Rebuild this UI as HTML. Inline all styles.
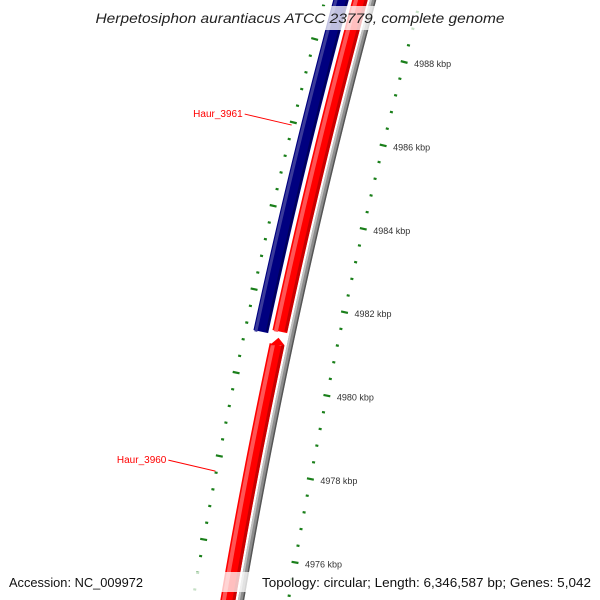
<!DOCTYPE html>
<html><head><meta charset="utf-8"><style>
html,body{margin:0;padding:0;background:#fff;}
svg{display:block;font-family:"Liberation Sans",sans-serif;}
</style></head><body>
<svg id="map" width="600" height="600" viewBox="0 0 600 600" xmlns="http://www.w3.org/2000/svg">
<g id="tracks"></g>
<g id="ticks"></g>
<g id="labels"></g>
<rect x="92" y="6" width="416" height="24" fill="#fff" fill-opacity="0.75"/>
<text x="300" y="23" text-anchor="middle" font-size="14" font-style="italic" fill="#222" textLength="409" lengthAdjust="spacingAndGlyphs">Herpetosiphon aurantiacus ATCC 23779, complete genome</text>
<rect x="0" y="572" width="600" height="20" fill="#fff" fill-opacity="0.75"/>
<text x="9" y="587" font-size="13" fill="#111" textLength="134" lengthAdjust="spacingAndGlyphs">Accession: NC_009972</text>
<text x="591" y="587" text-anchor="end" font-size="13" fill="#111" textLength="329" lengthAdjust="spacingAndGlyphs">Topology: circular; Length: 6,346,587 bp; Genes: 5,042</text>
</svg>
<script>
// data (kbp)
const majorTicks = [4976, 4978, 4980, 4982, 4984, 4986, 4988];
const tickLabels = ["4976 kbp","4978 kbp","4980 kbp","4982 kbp","4984 kbp","4986 kbp","4988 kbp"];
const minorStep = 0.4;
const featureNames = ["Haur_3961", "upper-red", "Haur_3960", "backbone"];
const featureStarts = [4981.2, 4981.15, 4974.5, 4974.5];
const featureEnds = [4990, 4990, 4981.1, 4990];
const featureLanes = [0, 1, 1, 2];
const featureArrow = [false, false, true, false];
const labelText = ["Haur_3961", "Haur_3960"];
const labelKbp = [4986.2, 4977.9];

const NS = "http://www.w3.org/2000/svg";
const PX = 41.7, K0 = 4988, Y0 = 50;
function yOf(k, y0) { return (y0 === undefined ? Y0 : y0) + (K0 - k) * PX; }
function curve(y, off) { return off - 0.2687 * y + 8.1e-5 * y * y; }
function slope(y) { return -0.2687 + 2 * 8.1e-5 * y; }
const laneOff = [341, 360, 373];
const laneW = [15, 15, 6];

function mk(tag, attrs, parent) {
  const e = document.createElementNS(NS, tag);
  for (const k in attrs) e.setAttribute(k, attrs[k]);
  parent.appendChild(e);
  return e;
}
function pathAlong(off, dx, yA, yB) {
  let d = "";
  for (let y = yA; y <= yB + 0.01; y += 5) {
    d += (d ? "L" : "M") + (curve(y, off) + dx).toFixed(2) + "," + y.toFixed(2);
  }
  return d;
}
const tracks = document.getElementById("tracks");
const layers = {
  0: [[15, 0, "#000080"], [3, -5, "#3a3a9a"], [2, 6, "#00005a"]],
  1: [[15, 0, "#ff0000"], [4, -4, "#ff5555"], [3, 6, "#c80000"]],
  2: [[6, 0, "#8c8c8c"], [2, -2, "#c0c0c0"], [1.5, 2.5, "#555"]]
};
for (let i = 0; i < featureNames.length; i++) {
  const lane = featureLanes[i], off = laneOff[lane];
  let yA = yOf(featureEnds[i]), yB = yOf(featureStarts[i]);
  const g = mk("g", {}, tracks);
  
  
  const tipY = yA;
  if (featureArrow[i]) yA = yA + 7;
  for (const [w, dx, c] of layers[lane]) {
    const p = mk("path", { d: pathAlong(off, dx, yA, yB), stroke: c, "stroke-width": w, fill: "none", "stroke-linecap": "butt" }, g);
    
    
  }
  if (featureArrow[i]) {
    const cx = curve(yA, off), tx = curve(tipY, off);
    const a = mk("polygon", { points: `${cx - 7.5},${yA + 0.5} ${tx},${tipY} ${cx + 7.5},${yA + 0.5}`, fill: "#ff0000" }, g);
    
    
  }
}

const ticks = document.getElementById("ticks");
function ring(off, y0, labelled, name) {
  const g = mk("g", {}, ticks);
  
  
  for (let k = 4989.6; k >= 4974.0; k -= minorStep) {
    const kr = Math.round(k * 10) / 10;
    const y = yOf(kr, y0);
    if (y < -5 || y > 605) continue;
    const isMajor = majorTicks.indexOf(Math.round(kr)) >= 0 && Math.abs(kr - Math.round(kr)) < 0.01;
    const len = isMajor ? 7 : 3;
    const x = curve(y, off);
    const s = slope(y), n = Math.hypot(1, s);
    const nx = 1 / n, ny = -s / n;
    const l = mk("line", { x1: x - nx * len / 2, y1: y - ny * len / 2, x2: x + nx * len / 2, y2: y + ny * len / 2, stroke: "#1a7f1a", "stroke-width": 2.2 }, g);
    
    
    if (isMajor && labelled) {
      const idx = majorTicks.indexOf(Math.round(kr));
      const t = mk("text", { x: x + 10, y: y + 5, "font-size": 9, fill: "#333" }, g);
      t.textContent = tickLabels[idx];
      
      
    }
  }
}
ring(420.5, 62, true, "outer-tick-ring");
ring(325, 39, false, "inner-tick-ring");

const labels = document.getElementById("labels");
for (let i = 0; i < labelText.length; i++) {
  const y = yOf(labelKbp[i]);
  const ex = curve(y, laneOff[0]) - 17;
  const g = mk("g", {}, labels);
  
  
  const ln = mk("line", { x1: ex - 47, y1: y - 11, x2: ex, y2: y, stroke: "#ff0000", "stroke-width": 1 }, g);
  
  
  const t = mk("text", { x: ex - 49, y: y - 8, "font-size": 10, fill: "#ff0000", "text-anchor": "end" }, g);
  t.textContent = labelText[i];
  
  
}
</script>
</body></html>
